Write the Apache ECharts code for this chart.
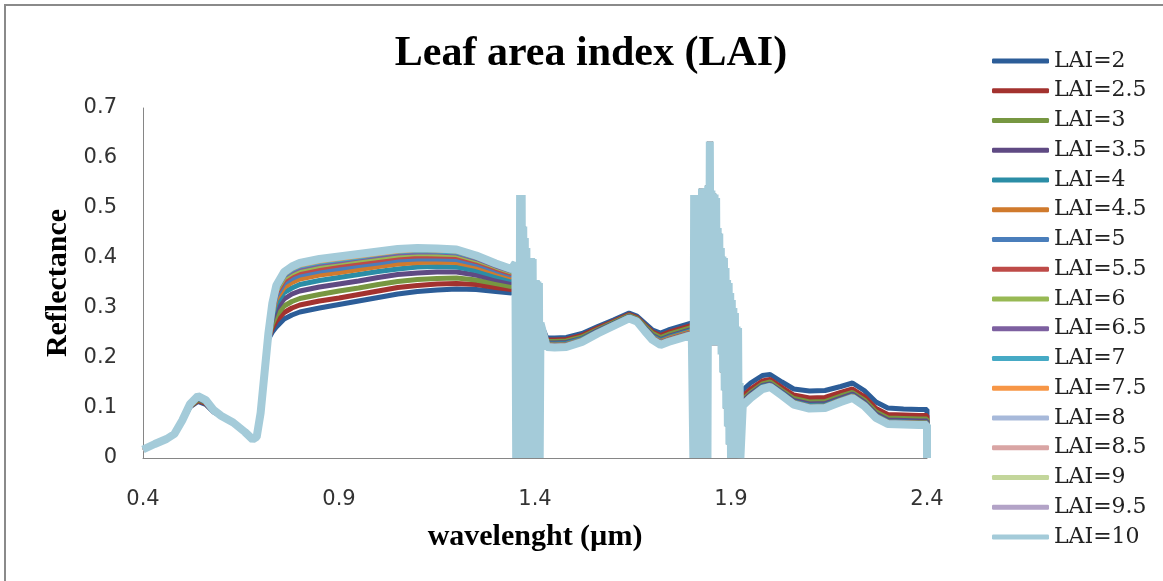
<!DOCTYPE html>
<html>
<head>
    <meta charset="utf-8">
    <title>Leaf area index (LAI)</title>
    <script src="https://cdn.jsdelivr.net/npm/echarts@6/dist/echarts.min.js"></script>
    <style>
        html, body {margin:0;padding:0;background:#fff;}
        #chart {position:absolute;left:0;top:0;width:1163px;height:581px;}
        .frame {position:absolute;left:4px;top:4px;width:1200px;height:600px;border-left:2px solid #8a8a8a;border-top:2px solid #8a8a8a;pointer-events:none;}
    </style>
</head>
<body>
<div id="chart"></div>
<div class="frame"></div>
<script>
    // wavelength (µm) of the smooth parts of the spectra
    var wavelength = [0.40,0.43,0.46,0.48,0.50,0.52,0.54,0.56,0.58,0.60,0.63,0.66,0.68,0.69,0.70,0.71,0.72,0.73,0.74,0.76,0.78,0.80,0.85,0.90,0.95,1.00,1.05,1.10,1.15,1.20,1.25,1.30,1.34,
        1.43,1.45,1.48,1.52,1.56,1.60,1.64,1.66,1.68,1.70,1.72,1.74,1.77,1.80,
        1.93,1.95,1.98,2.00,2.03,2.06,2.10,2.14,2.18,2.21,2.24,2.27,2.30,2.34,2.38,2.40];

    // noisy water absorption bands (same for every LAI)
    var band1X = [1.350,1.352,1.354,1.356,1.358,1.360,1.362,1.364,1.366,1.368,1.370,1.372,1.374,1.376,1.378,1.380,1.382,1.384,1.386,1.388,1.390,1.392,1.394,1.396,1.398,1.400,1.402,1.404,1.406,1.408,1.410,1.412,1.414];
    var band1Y = [.390,0,.390,0,.390,0,.526,0,.526,0,.463,0,.440,0,.420,0,.400,0,.400,0,.400,0,.398,0,.356,0,.356,0,.353,0,.350,0,.270];
    var band2X = [1.804,1.806,1.808,1.810,1.812,1.814,1.816,1.818,1.820,1.822,1.824,1.826,1.828,1.830,1.832,1.834,1.836,1.838,1.840,1.842,
        1.844,1.846,1.848,1.850,1.852,1.854,1.856,1.858,1.860,1.862,1.864,1.866,1.868,1.870,1.872,1.874,1.876,1.878,1.880,1.882,
        1.884,1.886,1.888,1.890,1.892,1.894,1.896,1.898,1.900,1.902,1.904,1.906,1.908,1.910,1.912,1.914,1.916,1.918,1.920,1.922,1.924];
    var band2Y = [0,.526,0,.526,0,.500,0,.463,0,.500,0,.539,0,.539,0,.535,0,.540,0,.545,
        .225,.633,.225,.535,.225,.529,.225,.527,.225,.520,.225,.460,.225,.449,.225,.420,.207,.403,.171,.400,
        .135,.380,.099,.356,.063,.350,.027,.330,0,.316,0,.300,0,.290,0,.263,0,.260,0,.150,0];
    var tailX = [2.40];
    var tailY = [0];

    var lai2   = [.017,.028,.038,.048,.075,.102,.113,.107,.092,.084,.071,.052,.037,.042,.09,.17,.238,.252,.262,.278,.286,.292,.300,.307,.314,.321,.328,.333,.336,.338,.337,.333,.330,
        .240,.240,.241,.249,.263,.276,.290,.284,.270,.256,.250,.256,.263,.270,
        .136,.150,.165,.167,.152,.138,.134,.135,.143,.150,.135,.112,.100,.098,.097,.097];
    var lai2_5 = [.017,.028,.038,.048,.075,.103,.115,.109,.093,.084,.071,.052,.037,.042,.09,.17,.240,.260,.274,.291,.300,.306,.314,.320,.327,.334,.341,.345,.348,.349,.347,.341,.337,
        .236,.236,.237,.245,.260,.273,.287,.281,.266,.252,.245,.251,.258,.265,
        .124,.138,.154,.157,.141,.126,.120,.121,.131,.138,.123,.099,.087,.086,.085,.085];
    var lai3   = [.017,.028,.038,.048,.075,.104,.117,.111,.094,.084,.071,.052,.037,.042,.09,.17,.241,.268,.285,.304,.313,.319,.327,.334,.340,.347,.353,.357,.359,.360,.356,.349,.343,
        .233,.233,.234,.242,.257,.271,.285,.279,.264,.249,.241,.247,.254,.261,
        .117,.131,.148,.152,.135,.119,.112,.113,.124,.131,.116,.092,.080,.079,.078,.078];
    var lai3_5 = [.017,.028,.038,.048,.075,.105,.119,.112,.094,.084,.071,.052,.037,.042,.09,.17,.243,.277,.298,.318,.328,.334,.342,.348,.354,.361,.367,.370,.372,.372,.366,.357,.351,
        .230,.230,.231,.239,.255,.269,.283,.277,.261,.245,.237,.243,.250,.257,
        .113,.128,.145,.148,.132,.115,.108,.109,.120,.128,.112,.088,.076,.075,.074,.074];
    var lai4   = [.017,.028,.038,.048,.075,.105,.120,.113,.095,.084,.071,.052,.037,.042,.09,.17,.245,.285,.309,.331,.340,.347,.355,.361,.367,.373,.378,.382,.383,.382,.375,.364,.357,
        .228,.228,.229,.238,.253,.268,.282,.276,.259,.243,.235,.241,.248,.255,
        .110,.125,.143,.146,.130,.112,.105,.106,.117,.125,.109,.085,.073,.072,.071,.071];
    var lai4_5 = [.017,.028,.038,.048,.075,.106,.121,.114,.095,.084,.071,.052,.037,.042,.09,.17,.246,.291,.318,.341,.351,.358,.366,.371,.377,.383,.388,.391,.392,.391,.383,.371,.362,
        .227,.226,.227,.236,.252,.267,.281,.275,.258,.241,.233,.239,.246,.253,
        .109,.124,.141,.145,.128,.111,.103,.104,.116,.124,.108,.084,.072,.071,.070,.070];
    var lai5   = [.017,.028,.038,.048,.075,.106,.122,.114,.095,.084,.071,.052,.037,.042,.09,.17,.247,.296,.324,.349,.359,.366,.374,.379,.385,.390,.396,.398,.398,.397,.388,.375,.366,
        .226,.225,.226,.235,.252,.266,.281,.275,.257,.240,.231,.237,.244,.251,
        .108,.122,.140,.144,.127,.110,.102,.103,.115,.122,.107,.083,.071,.070,.069,.069];
    var lai5_5 = [.017,.028,.038,.048,.075,.107,.122,.115,.096,.084,.071,.052,.037,.042,.09,.17,.248,.300,.330,.355,.366,.372,.380,.386,.391,.396,.402,.404,.404,.403,.393,.379,.369,
        .225,.224,.225,.234,.251,.265,.280,.274,.256,.239,.230,.236,.243,.250,
        .107,.122,.140,.144,.127,.109,.101,.102,.114,.122,.106,.082,.070,.069,.068,.068];
    var lai6   = [.017,.028,.038,.048,.075,.107,.123,.115,.096,.084,.071,.052,.037,.042,.09,.17,.248,.303,.334,.360,.370,.377,.385,.391,.396,.401,.406,.409,.408,.407,.396,.382,.372,
        .224,.223,.224,.234,.250,.265,.280,.274,.256,.238,.229,.235,.242,.249,
        .106,.121,.139,.143,.126,.108,.101,.102,.113,.121,.105,.081,.069,.068,.067,.067];
    var lai6_5 = [.017,.028,.038,.048,.075,.107,.123,.115,.096,.084,.071,.052,.037,.042,.09,.17,.249,.305,.338,.364,.374,.381,.389,.394,.400,.405,.410,.412,.412,.410,.399,.384,.374,
        .223,.222,.223,.233,.250,.265,.280,.274,.255,.237,.228,.234,.241,.248,
        .106,.121,.139,.143,.126,.108,.100,.101,.113,.121,.105,.081,.069,.068,.067,.067];
    var lai7   = [.017,.028,.038,.048,.075,.107,.123,.116,.096,.084,.071,.052,.037,.042,.09,.17,.249,.307,.340,.366,.377,.384,.392,.397,.402,.408,.413,.415,.414,.412,.401,.386,.375,
        .223,.222,.223,.233,.250,.265,.279,.273,.255,.237,.227,.233,.240,.247,
        .106,.121,.139,.143,.126,.108,.100,.101,.113,.121,.105,.081,.069,.068,.067,.067];
    var lai7_5 = [.017,.028,.038,.048,.075,.108,.124,.116,.096,.084,.071,.052,.037,.042,.09,.17,.250,.308,.342,.368,.379,.386,.394,.399,.404,.409,.414,.417,.416,.414,.402,.387,.376,
        .223,.222,.223,.233,.249,.264,.279,.273,.255,.237,.227,.233,.240,.247,
        .106,.121,.139,.142,.125,.108,.100,.101,.113,.121,.105,.081,.069,.068,.067,.067];
    var lai8   = [.017,.028,.038,.048,.075,.108,.124,.116,.096,.084,.071,.052,.037,.042,.09,.17,.250,.309,.343,.370,.381,.388,.396,.401,.406,.411,.416,.418,.417,.415,.403,.388,.377,
        .222,.221,.222,.232,.249,.264,.279,.273,.254,.236,.227,.233,.240,.247,
        .105,.120,.138,.142,.125,.107,.099,.100,.112,.120,.104,.080,.068,.067,.066,.066];
    var lai8_5 = [.017,.028,.038,.048,.075,.108,.124,.116,.096,.084,.071,.052,.037,.042,.09,.17,.250,.309,.344,.371,.382,.389,.397,.402,.407,.412,.417,.419,.418,.416,.404,.388,.377,
        .222,.221,.222,.232,.249,.264,.279,.273,.254,.236,.226,.232,.239,.246,
        .105,.120,.138,.142,.125,.107,.099,.100,.112,.120,.104,.080,.068,.067,.066,.066];
    var lai9   = [.017,.028,.038,.048,.075,.108,.124,.116,.096,.084,.071,.052,.037,.042,.09,.17,.250,.310,.344,.371,.382,.389,.397,.402,.407,.412,.417,.419,.418,.416,.405,.389,.378,
        .222,.221,.222,.232,.249,.264,.279,.273,.254,.236,.226,.232,.239,.246,
        .105,.120,.138,.142,.125,.107,.099,.100,.112,.120,.104,.080,.068,.067,.066,.066];
    var lai9_5 = [.017,.028,.038,.048,.075,.108,.124,.116,.096,.084,.071,.052,.037,.042,.09,.17,.250,.310,.345,.372,.383,.390,.398,.403,.408,.413,.418,.420,.419,.417,.405,.389,.378,
        .222,.221,.222,.232,.249,.264,.279,.273,.254,.236,.226,.232,.239,.246,
        .105,.120,.138,.142,.125,.107,.099,.100,.112,.120,.104,.080,.068,.067,.066,.066];
    var lai10  = [.017,.028,.038,.048,.075,.108,.124,.116,.096,.084,.071,.052,.037,.042,.09,.17,.250,.310,.345,.372,.383,.390,.398,.403,.408,.413,.418,.420,.419,.417,.405,.389,.378,
        .222,.221,.222,.232,.249,.264,.279,.273,.254,.236,.226,.232,.239,.246,
        .105,.120,.138,.142,.125,.107,.099,.100,.112,.120,.104,.080,.068,.067,.066,.066];

    var names = ['LAI=2','LAI=2.5','LAI=3','LAI=3.5','LAI=4','LAI=4.5','LAI=5','LAI=5.5','LAI=6',
        'LAI=6.5','LAI=7','LAI=7.5','LAI=8','LAI=8.5','LAI=9','LAI=9.5','LAI=10'];
    var values = [lai2,lai2_5,lai3,lai3_5,lai4,lai4_5,lai5,lai5_5,lai6,lai6_5,lai7,lai7_5,lai8,lai8_5,lai9,lai9_5,lai10];
    var colors = ['#2C5D98','#A3322F','#779741','#5F4A83','#2B8DA6','#D07A2D','#4A7EBB','#BE4B48','#98B954',
        '#7D60A0','#46AAC5','#F79646','#A7B9DA','#D9A5A4','#C3D69B','#B3A3C7','#A4CBD9'];

    function buildData(vals) {
        var pts = [];
        for (var j = 0; j < wavelength.length; j++) {
            pts.push([wavelength[j], vals[j]]);
            if (wavelength[j] === 1.34) {
                for (var k = 0; k < band1X.length; k++) pts.push([band1X[k], band1Y[k]]);
            }
            if (wavelength[j] === 1.80) {
                for (var m = 0; m < band2X.length; m++) pts.push([band2X[m], band2Y[m]]);
            }
        }
        for (var t = 0; t < tailX.length; t++) pts.push([tailX[t], tailY[t]]);
        return pts;
    }

    var series = [];
    for (var i = 0; i < names.length; i++) {
        series.push({
            name: names[i],
            type: 'line',
            data: buildData(values[i]),
            symbol: 'none',
            showSymbol: false,
            lineStyle: {color: colors[i], width: i === names.length - 1 ? 8 : 5, join: 'bevel'},
            itemStyle: {color: colors[i]},
            emphasis: {disabled: true}
        });
    }

    var chart = echarts.init(document.getElementById('chart'));
    var option = {
        animation: false,
        backgroundColor: '#fff',
        title: {
            text: 'Leaf area index (LAI)',
            left: 586,
            top: 28,
            textAlign: 'center',
            textStyle: {fontFamily: 'Liberation Serif', fontWeight: 'bold', fontSize: 42, color: '#000'}
        },
        legend: {
            orient: 'vertical',
            left: 992,
            top: 50,
            padding: 0,
            itemGap: 7.75,
            itemWidth: 57,
            itemHeight: 5,
            icon: 'roundRect',
            data: names,
            textStyle: {fontFamily: 'DejaVu Serif', fontSize: 22, lineHeight: 22, color: '#222'}
        },
        grid: {left: 143, right: 236, top: 108, bottom: 123},
        xAxis: {
            type: 'value',
            min: 0.4,
            max: 2.4,
            name: 'wavelenght (µm)',
            nameLocation: 'middle',
            nameGap: 64,
            nameMoveOverlap: false,
            nameTextStyle: {fontFamily: 'Liberation Serif', fontWeight: 'bold', fontSize: 30, color: '#000'},
            axisLine: {show: true, lineStyle: {color: '#868686', width: 1}},
            axisTick: {show: false},
            splitLine: {show: false},
            axisLabel: {
                customValues: [0.4, 0.9, 1.4, 1.9, 2.4],
                formatter: function (v) { return v.toFixed(1); },
                margin: 31,
                fontFamily: 'DejaVu Sans',
                fontSize: 21,
                color: '#333'
            }
        },
        yAxis: {
            type: 'value',
            min: 0,
            max: 0.7,
            interval: 0.1,
            name: 'Reflectance',
            nameLocation: 'middle',
            nameGap: 70,
            nameMoveOverlap: false,
            nameTextStyle: {fontFamily: 'Liberation Serif', fontWeight: 'bold', fontSize: 30, color: '#000'},
            axisLine: {show: true, lineStyle: {color: '#868686', width: 1}},
            axisTick: {show: false},
            splitLine: {show: false},
            axisLabel: {margin: 26, fontFamily: 'DejaVu Sans', fontSize: 21, color: '#333'}
        },
        series: series
    };
    chart.setOption(option);
</script>
</body>
</html>
